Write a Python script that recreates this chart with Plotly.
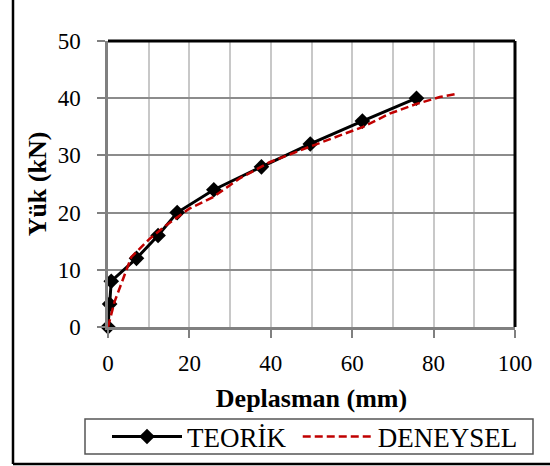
import plotly.graph_objects as go

teorik_x = [0, 0.4, 0.8, 7.0, 12.3, 17.0, 26.0, 37.7, 49.7, 62.5, 75.8]
teorik_y = [0, 4, 8, 12, 16, 20, 24, 28, 32, 36, 40]

deney_x = [0, 1.6, 3.7, 5.7, 10.2, 14.3, 20.0, 25.8, 32.4, 39.7, 49.5, 62.7, 69.2, 75.8, 81.5, 85.2]
deney_y = [0, 4.4, 8.4, 12.2, 15.4, 17.8, 20.7, 22.7, 26.0, 28.8, 31.5, 35.0, 37.3, 39.0, 40.2, 40.7]

x_ticks = [0, 20, 40, 60, 80, 100]
y_ticks = [0, 10, 20, 30, 40, 50]

FONT = "Liberation Serif"
W, H = 550, 466
L, R, T, B = 108, 515, 41, 327

def px(x):
    return (x - L) / (R - L)

def py(y):
    return (B - y) / (B - T)

fig = go.Figure()
fig.add_trace(go.Scatter(x=teorik_x, y=teorik_y, mode="lines+markers", name="TEORİK\u00a0",
                         line=dict(color="black", width=3), cliponaxis=False,
                         marker=dict(symbol="diamond", size=12, color="black")))
fig.add_trace(go.Scatter(x=deney_x, y=deney_y, mode="lines", name="DENEYSEL",
                         line=dict(color="#c00000", width=2.5, dash="8px,4px")))

fig.update_layout(
    width=W, height=H,
    margin=dict(l=L, r=W - R, t=T, b=H - B, autoexpand=False),
    paper_bgcolor="white", plot_bgcolor="white",
    font=dict(family=FONT, size=23, color="black"),
    showlegend=True,
    legend=dict(orientation="h", x=px(107), y=py(437), xanchor="left", yanchor="middle",
                borderwidth=0, bgcolor="rgba(0,0,0,0)", font=dict(family=FONT, size=27),
                itemwidth=70, tracegroupgap=0),
    xaxis=dict(range=[0, 100], tickvals=x_ticks, showgrid=True, gridcolor="#c8c8c8", gridwidth=1.5,
               minor=dict(dtick=10, showgrid=True, gridcolor="#c8c8c8", gridwidth=1.5),
               showline=True, linecolor="#808080", linewidth=2.5,
               ticks="outside", ticklen=8, tickcolor="#808080", tickwidth=1.5,
               tickfont=dict(family=FONT, size=23), ticklabelstandoff=6,
               zeroline=False, title=dict(text="<b>Deplasman (mm)</b>", font=dict(family=FONT, size=26), standoff=14)),
    yaxis=dict(range=[0, 50], tickvals=y_ticks, showgrid=True, gridcolor="#8c8c8c", gridwidth=1.5,
               showline=True, linecolor="#808080", linewidth=2.5,
               ticks="outside", ticklen=8, tickcolor="#808080", tickwidth=1.5,
               tickfont=dict(family=FONT, size=23), ticklabelstandoff=12,
               zeroline=False, title=dict(text="<b>Yük (kN)</b>", font=dict(family=FONT, size=26), standoff=4)),
    shapes=[
        dict(type="line", xref="paper", yref="paper", x0=0, x1=1, y0=1, y1=1,
             line=dict(color="black", width=3)),
        dict(type="line", xref="paper", yref="paper", x0=1, x1=1, y0=0, y1=1,
             line=dict(color="black", width=3)),
        dict(type="rect", xref="paper", yref="paper", x0=px(85), x1=px(533), y0=py(419), y1=py(454),
             line=dict(color="#555555", width=1.5)),
        dict(type="line", xref="paper", yref="paper", x0=px(13), x1=px(13), y0=py(-5), y1=py(464),
             line=dict(color="black", width=2.5)),
        dict(type="line", xref="paper", yref="paper", x0=px(13), x1=px(560), y0=py(464), y1=py(464),
             line=dict(color="black", width=2.5)),
    ],
)

fig.write_html("out.html")
